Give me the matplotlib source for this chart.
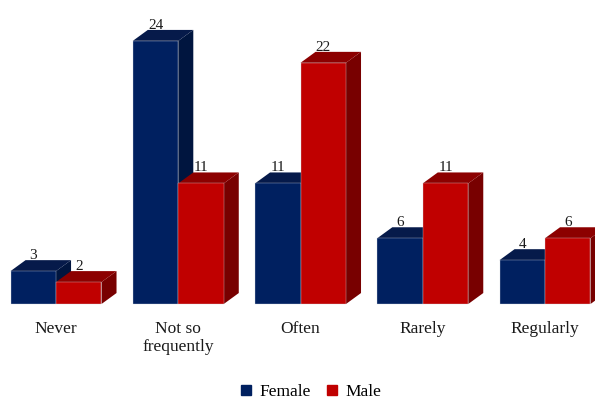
import matplotlib.pyplot as plt
from matplotlib.patches import Polygon
from matplotlib.lines import Line2D

categories = ["Never", "Not so\nfrequently", "Often", "Rarely", "Regularly"]
female = [3, 24, 11, 6, 4]
male = [2, 11, 22, 11, 6]

series = [
    ("Female", female, {"front": "#002060", "top": "#061a4a", "side": "#00153f"}),
    ("Male", male, {"front": "#c00000", "top": "#8c0000", "side": "#780000"}),
]

plt.rcParams["font.family"] = ["Liberation Serif", "DejaVu Serif"]

fig = plt.figure(figsize=(5.95, 4.01), dpi=100)
# axes laid out so that one category is ~122 px wide and one unit ~11 px tall
ax = fig.add_axes([1.0 / 595, 97.0 / 401, 592.9 / 595, 296.0 / 401])
ax.set_xlim(-0.45, 4.4)
ax.set_ylim(0, 27)
ax.axis("off")

w = 0.372    # bar width (category units)
dx = 0.123   # depth offset in x
dy = 1.0     # depth offset in y
edge = "#d4d8e0"


def draw_box(x0, h, col):
    x1 = x0 + w
    side = Polygon([(x1, 0), (x1 + dx, dy), (x1 + dx, h + dy), (x1, h)],
                   closed=True, fc=col["side"], ec="none", clip_on=False)
    top = Polygon([(x0, h), (x0 + dx, h + dy), (x1 + dx, h + dy), (x1, h)],
                  closed=True, fc=col["top"], ec="none", clip_on=False)
    ax.add_patch(side)
    ax.add_patch(top)
    ax.bar(x0, h, width=w, align="edge", color=col["front"], edgecolor=edge,
           linewidth=0.25, clip_on=False)


for i in range(len(categories)):
    for k, (name, vals, col) in enumerate(series):
        x0 = i - w + k * w
        draw_box(x0, vals[i], col)
        ax.text(x0 + w / 2, vals[i] + dy + 0.12, str(vals[i]), ha="center",
                va="baseline", fontsize=11, color="#1a1a1a")

for i, c in enumerate(categories):
    ax.text(i, -1.55, c, ha="center", va="top", fontsize=12.5, color="#1a1a1a",
            linespacing=1.2)

handles = [Line2D([], [], ls="none", marker="s", markersize=6.5,
                  markerfacecolor=col["front"], markeredgecolor=col["front"])
           for _, _, col in series]
fig.legend(handles, [s[0] for s in series], loc="center",
           bbox_to_anchor=(0.522, 0.022), ncol=2, frameon=False,
           fontsize=12.5, handlelength=0.7, handletextpad=0.4, columnspacing=0.9)

fig.savefig("out.png", dpi=100)
